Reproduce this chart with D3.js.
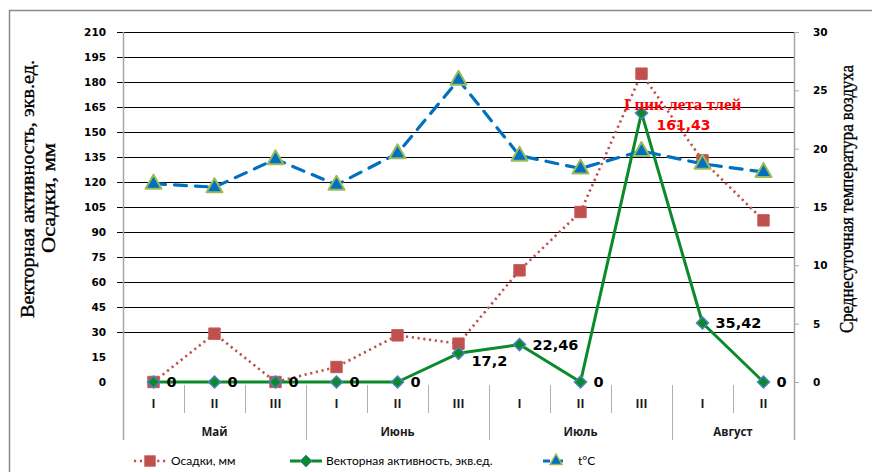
<!DOCTYPE html>
<html>
<head>
<meta charset="utf-8">
<script src="https://cdn.jsdelivr.net/npm/d3@7"></script>
<style>
  html, body { margin: 0; padding: 0; background: #fff; }
  svg { display: block; }
</style>
</head>
<body>
<svg id="chart" width="872" height="472"></svg>
<script>
// Decades (ten-day periods) of each month
const decades = ["I", "II", "III", "I", "II", "III", "I", "II", "III", "I", "II"];
const monthNames = ["Май", "Июнь", "Июль", "Август"];
const monthSpans = [3, 3, 3, 2];

// Series values
const precipitation = [0, 29, 0, 9, 28, 23, 67, 102, 185, 133, 97];        // мм
const vectorActivity = [0, 0, 0, 0, 0, 17.2, 22.46, 0, 161.43, 35.42, 0];  // экв.ед.
const temperature = [17.0, 16.7, 19.1, 16.9, 19.6, 25.9, 19.4, 18.3, 19.8, 18.7, 18.0]; // °C

// Axis ticks
const leftTicks = d3.range(0, 211, 15);
const gridTicks = d3.range(30, 211, 15);
const rightTicks = d3.range(0, 31, 5);

const peakIndex = 8;
const peakTitle = "I пик лета тлей";

const svg = d3.select("#chart");
const plotLeft = 123, plotRight = 794, plotTop = 32, plotBottom = 382;

const x = d3.scaleBand().domain(d3.range(decades.length)).range([plotLeft, plotRight]).padding(0);
const cx = i => x(i) + x.bandwidth() / 2;
const yL = d3.scaleLinear().domain([0, 210]).range([plotBottom, plotTop]);
const yR = d3.scaleLinear().domain([0, 30]).range([plotBottom, plotTop]);
const fmt = v => String(v).replace(".", ",");

// Outer frame
svg.append("rect").attr("x", 9.5).attr("y", 10.5).attr("width", 900).attr("height", 500)
  .attr("fill", "none").attr("stroke", "#8a8a8a").attr("stroke-width", 1.5);

// Horizontal gridlines
svg.append("g").selectAll("line").data(gridTicks).join("line")
  .attr("x1", plotLeft - 6).attr("x2", plotRight)
  .attr("y1", d => Math.round(yL(d)) + 0.5).attr("y2", d => Math.round(yL(d)) + 0.5)
  .attr("stroke", "#000").attr("stroke-width", 1);

// Left axis
const axL = d3.axisLeft(yL).tickValues(leftTicks).tickSize(0).tickPadding(17);
const gL = svg.append("g").attr("transform", `translate(${plotLeft},0)`).call(axL);
gL.select(".domain").remove();
gL.selectAll("text").attr("font-family", "DejaVu Sans").attr("font-size", 10.5)
  .attr("font-weight", "bold").attr("fill", "#000");
svg.append("line").attr("x1", plotLeft + 0.5).attr("x2", plotLeft + 0.5)
  .attr("y1", plotTop).attr("y2", 440).attr("stroke", "#a6a6a6").attr("stroke-width", 1.5);

// Right axis
const axR = d3.axisRight(yR).tickValues(rightTicks).tickSize(5).tickPadding(14);
const gR = svg.append("g").attr("transform", `translate(${plotRight},0)`).call(axR);
gR.select(".domain").remove();
gR.selectAll(".tick line").attr("stroke", "#a6a6a6");
gR.selectAll("text").attr("font-family", "DejaVu Sans").attr("font-size", 10.5)
  .attr("font-weight", "bold").attr("fill", "#000");
svg.append("line").attr("x1", plotRight + 0.5).attr("x2", plotRight + 0.5)
  .attr("y1", plotTop).attr("y2", 440).attr("stroke", "#a6a6a6").attr("stroke-width", 1.5);

// Category axis: decade separators and month separators
const monthStarts = [];
monthSpans.reduce((acc, n) => { monthStarts.push(acc); return acc + n; }, 0);
const sepG = svg.append("g");
d3.range(1, decades.length).forEach(i => {
  const isMonth = monthStarts.includes(i);
  sepG.append("line")
    .attr("x1", Math.round(x(i)) + 0.5).attr("x2", Math.round(x(i)) + 0.5)
    .attr("y1", 385).attr("y2", isMonth ? 440 : 413)
    .attr("stroke", "#b0b0b0").attr("stroke-width", 1);
});
svg.append("g").selectAll("text").data(decades).join("text")
  .attr("x", (d, i) => cx(i)).attr("y", 408)
  .attr("text-anchor", "middle")
  .attr("font-family", "Open Sans").attr("font-size", 12).attr("font-weight", "bold")
  .attr("fill", "#1a1a1a").text(d => d);
svg.append("g").selectAll("text").data(monthNames).join("text")
  .attr("x", (d, k) => {
    const s = monthStarts[k], e = s + monthSpans[k];
    return (x(s) + x(e - 1) + x.bandwidth()) / 2;
  })
  .attr("y", 436).attr("text-anchor", "middle")
  .attr("font-family", "Open Sans").attr("font-size", 11.5).attr("font-weight", "bold")
  .attr("fill", "#1a1a1a").text(d => d);

// Axis titles (tall condensed serif, fitted to their printed length)
function axisTitle(tx, ty, len, label) {
  svg.append("text").attr("transform", `translate(${tx},${ty}) rotate(-90)`)
    .attr("text-anchor", "middle").attr("font-family", "Liberation Serif")
    .attr("font-size", 18.5).attr("fill", "#000")
    .attr("stroke", "#000").attr("stroke-width", 0.35)
    .attr("textLength", len).attr("lengthAdjust", "spacingAndGlyphs")
    .text(label);
}
axisTitle(34, 189, 258, "Векторная активность, экв.ед.");
axisTitle(55, 198, 110, "Осадки, мм");
axisTitle(853, 199, 268, "Среднесуточная температура воздуха");

// Colours
const red = "#c0504d", green = "#0a8a2a", blue = "#0070c0", edgeBlue = "#4f81bd", edgeGreen = "#9bbb59";

// Markers
const squarePath = d3.symbol(d3.symbolSquare, 130)();
const diamondPath = "M0,-6L6,0L0,6L-6,0Z";
const trianglePath = "M0,-8L8,6L-8,6Z";

// Precipitation series
svg.append("path").datum(precipitation)
  .attr("d", d3.line().x((d, i) => cx(i)).y(d => yL(d)))
  .attr("fill", "none").attr("stroke", red).attr("stroke-width", 2.6)
  .attr("stroke-dasharray", "2.2,3.6");
svg.append("g").selectAll("path").data(precipitation).join("path")
  .attr("transform", (d, i) => `translate(${cx(i)},${yL(d)})`)
  .attr("d", squarePath).attr("fill", red).attr("stroke", "#c45a57").attr("stroke-width", 1);

// Vector activity series
svg.append("path").datum(vectorActivity)
  .attr("d", d3.line().x((d, i) => cx(i)).y(d => yL(d)))
  .attr("fill", "none").attr("stroke", green).attr("stroke-width", 3)
  .attr("stroke-linejoin", "round");
svg.append("g").selectAll("path").data(vectorActivity).join("path")
  .attr("transform", (d, i) => `translate(${cx(i)},${yL(d)})`)
  .attr("d", diamondPath).attr("fill", green).attr("stroke", edgeBlue).attr("stroke-width", 1.5);

// Temperature series
svg.append("path").datum(temperature)
  .attr("d", d3.line().x((d, i) => cx(i)).y(d => yR(d)))
  .attr("fill", "none").attr("stroke", blue).attr("stroke-width", 3.2)
  .attr("stroke-dasharray", "12,9").attr("stroke-linecap", "round");
svg.append("g").selectAll("path").data(temperature).join("path")
  .attr("transform", (d, i) => `translate(${cx(i)},${yR(d) - 1})`)
  .attr("d", trianglePath).attr("fill", blue).attr("stroke", edgeGreen).attr("stroke-width", 2)
  .attr("stroke-linejoin", "round");

// Vector activity value labels
svg.append("g").selectAll("text")
  .data(vectorActivity.map((v, i) => ({ v, i })).filter(d => d.i !== peakIndex))
  .join("text")
  .attr("x", d => cx(d.i) + 13).attr("y", d => yL(d.v) + (d.v === 17.2 ? 7 : 0))
  .attr("dy", "0.36em")
  .attr("font-family", "DejaVu Sans").attr("font-size", 14.5).attr("font-weight", "bold")
  .attr("fill", "#000").text(d => fmt(d.v));

// Peak annotation
const px = cx(peakIndex), py = yL(vectorActivity[peakIndex]);
svg.append("text").attr("x", px + 41).attr("y", py - 3).attr("text-anchor", "middle")
  .attr("font-family", "Liberation Serif").attr("font-size", 17).attr("font-weight", "bold")
  .attr("fill", "#ff0000").text(peakTitle);
svg.append("text").attr("x", px + 42).attr("y", py + 17).attr("text-anchor", "middle")
  .attr("font-family", "DejaVu Sans").attr("font-size", 14).attr("font-weight", "bold")
  .attr("fill", "#ff0000").text(fmt(vectorActivity[peakIndex]));

// Legend
const legendY = 461;
const legendFont = "Lato";
const lg = svg.append("g");
// precipitation
lg.append("line").attr("x1", 134).attr("x2", 166).attr("y1", legendY).attr("y2", legendY)
  .attr("stroke", red).attr("stroke-width", 2.4).attr("stroke-dasharray", "2.2,3.6");
lg.append("path").attr("transform", `translate(150,${legendY})`)
  .attr("d", squarePath).attr("fill", red);
lg.append("text").attr("x", 171).attr("y", legendY).attr("dy", "0.35em")
  .attr("font-family", legendFont).attr("font-size", 12).attr("fill", "#000").text("Осадки, мм");
// vector activity
lg.append("line").attr("x1", 290).attr("x2", 322).attr("y1", legendY).attr("y2", legendY)
  .attr("stroke", green).attr("stroke-width", 3);
lg.append("path").attr("transform", `translate(306,${legendY})`)
  .attr("d", diamondPath).attr("fill", green).attr("stroke", edgeBlue).attr("stroke-width", 1);
lg.append("text").attr("x", 326).attr("y", legendY).attr("dy", "0.35em")
  .attr("font-family", legendFont).attr("font-size", 12).attr("fill", "#000")
  .text("Векторная активность, экв.ед.");
// temperature
lg.append("line").attr("x1", 543).attr("x2", 569).attr("y1", legendY).attr("y2", legendY)
  .attr("stroke", blue).attr("stroke-width", 3).attr("stroke-dasharray", "7,6");
lg.append("path").attr("transform", `translate(556,${legendY - 1}) scale(0.75)`)
  .attr("d", trianglePath).attr("fill", blue).attr("stroke", edgeGreen).attr("stroke-width", 2);
lg.append("text").attr("x", 578).attr("y", legendY).attr("dy", "0.35em")
  .attr("font-family", legendFont).attr("font-size", 12).attr("fill", "#000").text("t°C");
</script>
</body>
</html>
